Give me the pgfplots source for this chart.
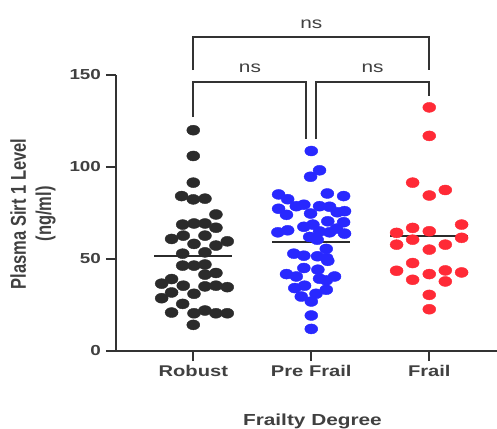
\documentclass[border=0pt]{standalone}
\usepackage{pgfplots}
\pgfplotsset{compat=1.18}
\usepackage{fontspec}
\setmainfont{Liberation Sans}[FakeStretch=1.3]
\newfontfamily\plainfont{Liberation Sans}
\definecolor{txt}{HTML}{404040}
\definecolor{axc}{HTML}{333333}
\definecolor{dk}{HTML}{2B2B2B}
\definecolor{bl}{HTML}{2828FF}
\definecolor{rd}{HTML}{FF2A36}

\pgfplotstableread{
x y
0 120
0 106
0 91.5
-0.099 84.2
0 82.4
0.099 82.8
0.192 74.2
-0.09 68.7
0.006 69.3
0.099 69.3
0.192 67
-0.184 60.9
-0.085 62.7
0.099 62.7
0.288 59.6
0.192 57.3
0.006 58.2
-0.09 52.9
0.099 53.6
-0.09 46.4
0.006 46.4
0.099 47
0.099 41.5
0.192 42.4
-0.268 36.6
-0.184 39.1
-0.085 35.5
0.099 35.1
0.192 35.5
0.288 34.7
-0.184 31.8
-0.268 28.7
0.006 31.1
-0.09 25.6
-0.184 20.9
0.006 20.5
0.099 22
0.192 20.5
0.288 20.5
0 14.2
}\robust

\pgfplotstableread{
x y
1 108.7
1.07 98.2
0.994 94.7
0.723 85.1
0.80 82.5
1.136 85.6
1.274 84.2
0.723 77.3
0.79 74
0.873 78.7
0.937 79.5
0.994 74.7
1.07 78.7
1.155 78.4
1.22 75.4
1.282 76
1.14 70.5
1.274 70
0.937 67.5
1.014 68.7
0.717 64.5
0.80 65.6
1.07 65
1.155 64.5
1.282 63.8
0.986 62
1.05 60.5
1.214 66.5
1.127 55.5
0.852 52.9
0.937 51.8
1.053 51.5
1.13 50.5
1.14 49
0.937 45.1
1.056 44.2
0.79 41.8
0.873 40.5
1.07 39.3
1.197 40.5
0.86 34.2
1.127 33.3
0.915 29.6
1 26.9
1 19.3
1 12
0.943 35.5
1.127 38.4
1.04 31.1
}\prefrail

\pgfplotstableread{
x y
2 132.4
2 116.9
1.859 91.5
2 84.5
2.136 87.5
2.274 68.7
1.723 64.2
1.859 66.9
2 65.1
2.274 61.5
1.723 57.8
1.859 60.5
2.136 57.8
2 55.1
1.859 47.8
1.723 43.6
2 41.8
2.136 43.8
2.274 42.7
1.859 38.7
2.136 37.8
2 30.5
2 22.7
}\frail

\begin{document}
\begin{tikzpicture}
\begin{axis}[
 scale only axis, width=381pt, height=276pt,
 xmin=-0.655, xmax=2.574, ymin=0, ymax=150,
 axis lines*=left,
 axis line style={line width=1.6pt, color=axc},
 xtick={0,1,2}, xticklabels={Robust,Pre Frail,Frail},
 ytick={0,50,100,150},
 tick align=outside, major tick length=10pt,
 tick style={line width=1.6pt, color=axc},
 minor tick num=0,
 /pgf/number format/assume math mode=true,
 yticklabel style={font=\bfseries\fontsize{14.5}{16}\selectfont, text=txt, xshift=-1.5pt},
 xticklabel style={font=\bfseries\fontsize{15.5}{17}\selectfont, text=txt, yshift=-1pt},
 clip=false,
]
\addplot[only marks, mark=*, mark size=5pt, mark options={fill=dk, draw=dk, xscale=1.3}] table[x=x,y=y] {\robust};
\addplot[only marks, mark=*, mark size=5pt, mark options={fill=bl, draw=bl, xscale=1.3}] table[x=x,y=y] {\prefrail};
\addplot[only marks, mark=*, mark size=5pt, mark options={fill=rd, draw=rd, xscale=1.3}] table[x=x,y=y] {\frail};
\addplot[no marks, line width=2.2pt, color=dk] coordinates {(-0.33,51.8) (0.33,51.8)};
\addplot[no marks, line width=2.2pt, color=dk] coordinates {(0.67,59.3) (1.33,59.3)};
\addplot[no marks, line width=2.2pt, color=dk] coordinates {(1.67,62.4) (2.33,62.4)};
\addplot[no marks, line width=1.6pt, color=axc, line join=miter] coordinates {(0,152.7) (0,170.7) (2,170.7) (2,152.7)};
\addplot[no marks, line width=1.6pt, color=axc, line join=miter] coordinates {(0,127.1) (0,146.2) (0.955,146.2) (0.955,115.1)};
\addplot[no marks, line width=1.6pt, color=axc, line join=miter] coordinates {(1.04,115.1) (1.04,146.2) (2,146.2) (2,138.6)};
\node[font=\fontsize{16}{18}\selectfont, text=txt] at (axis cs:1,177.8) {ns};
\node[font=\fontsize{16}{18}\selectfont, text=txt] at (axis cs:0.48,153.6) {ns};
\node[font=\fontsize{16}{18}\selectfont, text=txt] at (axis cs:1.52,153.6) {ns};
\node[rotate=90, yscale=1.3, align=center, font=\plainfont\bfseries\fontsize{16.5}{19.5}\selectfont, text=txt] at ([xshift=-83pt]axis cs:-0.655,74.5) {Plasma Sirt 1 Level\\(ng/ml)};
\node[anchor=base, font=\bfseries\fontsize{16}{18}\selectfont, text=txt] at ([yshift=-74pt]axis cs:1.01,0) {Frailty Degree};
\coordinate (bl) at (rel axis cs:0,0);
\end{axis}
\pgfresetboundingbox
\path ([shift={(-116pt,-77pt)}]bl) rectangle ([shift={(381pt,351pt)}]bl);
\end{tikzpicture}
\end{document}
